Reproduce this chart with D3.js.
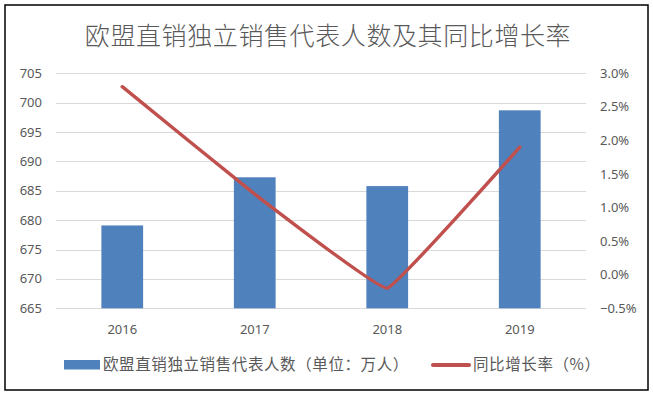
<!DOCTYPE html>
<html>
<head>
<meta charset="utf-8">
<script src="https://cdn.jsdelivr.net/npm/d3@7.9.0/dist/d3.min.js"></script>
<style>
  html, body { margin: 0; padding: 0; background: #fff; }
  svg { display: block; font-family: "Noto Sans CJK SC", "Noto Sans", sans-serif; }
</style>
</head>
<body>
<svg id="chart" width="653" height="395"></svg>
<script>
// data
const years = ['2016', '2017', '2018', '2019'];
const reps = [679.1, 687.3, 685.8, 698.7];      // 万人
const growth = [2.8, 1.2, -0.2, 1.9];            // %
const leftTicks = [665, 670, 675, 680, 685, 690, 695, 700, 705];
const rightTicks = [-0.5, 0, 0.5, 1.0, 1.5, 2.0, 2.5, 3.0];

const title = '欧盟直销独立销售代表人数及其同比增长率';
const barName = '欧盟直销独立销售代表人数（单位：万人）';
const lineName = '同比增长率（%）';

const blue = '#4F81BD', red = '#C0504D', textColor = '#595959';

const svg = d3.select('#chart');
const m = { left: 56, right: 586, top: 73.3, bottom: 308.3 };

// frame
svg.append('rect')
  .attr('x', 5).attr('y', 5).attr('width', 643).attr('height', 385)
  .attr('fill', '#fff').attr('stroke', '#000').attr('stroke-width', 1.5);

svg.append('text')
  .attr('x', 328).attr('y', 45)
  .attr('text-anchor', 'middle')
  .attr('font-size', 25)
  .attr('font-weight', 300)
  .attr('letter-spacing', 0.6)
  .attr('fill', textColor)
  .text(title);

const x = d3.scaleBand().domain(years).range([m.left, m.right]).paddingInner(0.685).paddingOuter(0.3425);
const yL = d3.scaleLinear().domain([665, 705]).range([m.bottom, m.top]);
const yR = d3.scaleLinear().domain([-0.5, 3.0]).range([m.bottom, m.top]);

// gridlines
svg.append('g').selectAll('line').data(leftTicks).join('line')
  .attr('x1', m.left).attr('x2', m.right)
  .attr('y1', d => Math.round(yL(d)) + 0.5).attr('y2', d => Math.round(yL(d)) + 0.5)
  .attr('stroke', '#D9D9D9').attr('stroke-width', 1);

// left axis labels
svg.append('g').selectAll('text').data(leftTicks).join('text')
  .attr('x', 42).attr('y', d => yL(d) + 4.5)
  .attr('text-anchor', 'end')
  .attr('font-size', 13)
  .attr('fill', textColor)
  .style('font-family', '"Noto Sans", sans-serif')
  .text(d => d);

// right axis labels
svg.append('g').selectAll('text').data(rightTicks).join('text')
  .attr('x', 600).attr('y', d => yR(d) + 4.5)
  .attr('text-anchor', 'start')
  .attr('font-size', 13)
  .attr('fill', textColor)
  .style('font-family', '"Noto Sans", sans-serif')
  .text(d => d3.format('.1f')(d) + '%');

// bars
svg.append('g').selectAll('rect').data(reps).join('rect')
  .attr('x', (d, i) => x(years[i]))
  .attr('y', d => yL(d))
  .attr('width', x.bandwidth())
  .attr('height', d => yL(665) - yL(d))
  .attr('fill', blue);

// x labels
svg.append('g').selectAll('text').data(years).join('text')
  .attr('x', d => x(d) + x.bandwidth() / 2)
  .attr('y', 334)
  .attr('text-anchor', 'middle')
  .attr('font-size', 13)
  .attr('fill', textColor)
  .style('font-family', '"Noto Sans", sans-serif')
  .text(d => d);

// growth line (light smoothing, like the Excel original)
const line = d3.line()
  .x((d, i) => x(years[i]) + x.bandwidth() / 2)
  .y(d => yR(d))
  .curve(d3.curveCardinal.tension(0.8));

svg.append('path')
  .datum(growth)
  .attr('d', line)
  .attr('fill', 'none')
  .attr('stroke', red)
  .attr('stroke-width', 3.5)
  .attr('stroke-linecap', 'round')
  .attr('stroke-linejoin', 'round');

// legend
svg.append('rect')
  .attr('x', 64).attr('y', 360).attr('width', 36).attr('height', 9.5)
  .attr('fill', blue);
svg.append('text')
  .attr('x', 103).attr('y', 370)
  .attr('font-size', 15.5)
  .attr('letter-spacing', 0.6)
  .attr('fill', textColor)
  .text(barName);

svg.append('line')
  .attr('x1', 433).attr('x2', 469).attr('y1', 365).attr('y2', 365)
  .attr('stroke', red).attr('stroke-width', 4).attr('stroke-linecap', 'round');
svg.append('text')
  .attr('x', 473).attr('y', 370)
  .attr('font-size', 15.5)
  .attr('letter-spacing', 0.6)
  .attr('fill', textColor)
  .text(lineName);
</script>
</body>
</html>
